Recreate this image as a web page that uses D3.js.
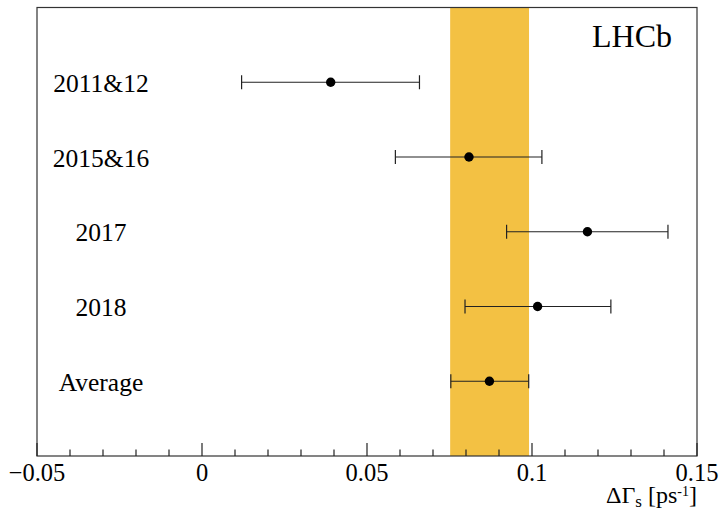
<!DOCTYPE html>
<html>
<head>
<meta charset="utf-8">
<script src="https://cdn.jsdelivr.net/npm/d3@7"></script>
<style>
  body { margin: 0; background: #fff; }
  svg { display: block; }
</style>
</head>
<body>
<script>
// measurements (ΔΓs, ps^-1)
var labels = ["2011&12", "2015&16", "2017", "2018", "Average"];
var centralValues = [0.0390, 0.0809, 0.1168, 0.1017, 0.0871];
var lowerEdges = [0.0120, 0.0586, 0.0923, 0.0797, 0.0754];
var upperEdges = [0.0659, 0.1030, 0.1412, 0.1239, 0.0990];
var bandRange = [0.0752, 0.0991];
var xTicks = [-0.05, 0, 0.05, 0.1, 0.15];

var serif = "'Liberation Serif', 'Times New Roman', serif";

var outerWidth = 720, outerHeight = 513,
    margin = {top: 7.5, right: 23, bottom: 57, left: 37},
    innerWidth = outerWidth - margin.left - margin.right,
    innerHeight = outerHeight - margin.top - margin.bottom;

var svg = d3.select("body").append("svg")
    .attr("width", outerWidth)
    .attr("height", outerHeight);

var plot = svg.append("g")
    .attr("transform", "translate(" + margin.left + "," + margin.top + ")");

var xScale = d3.scaleLinear().domain([-0.05, 0.15]).range([0, innerWidth]);
// rows: top row at 5, bottom at 1, frame spans 0..6
var yScale = d3.scaleLinear().domain([0, 6]).range([innerHeight, 0]);

// average band
plot.append("rect")
    .attr("x", xScale(bandRange[0]))
    .attr("width", xScale(bandRange[1]) - xScale(bandRange[0]))
    .attr("y", 0)
    .attr("height", innerHeight)
    .attr("fill", "#f3c143");

// frame
plot.append("rect")
    .attr("x", 0).attr("y", 0)
    .attr("width", innerWidth).attr("height", innerHeight)
    .attr("fill", "none")
    .attr("stroke", "#333")
    .attr("stroke-width", 1.2);

// x axis: ticks pointing up into the plot
var minorTicks = d3.range(-50, 151, 10).map(function(d) { return d / 1000; });
var xg = plot.append("g").attr("transform", "translate(0," + innerHeight + ")");
xg.selectAll("line.minor")
    .data(minorTicks)
    .enter().append("line")
    .attr("x1", function(d) { return xScale(d); })
    .attr("x2", function(d) { return xScale(d); })
    .attr("y1", 0)
    .attr("y2", function(d) { return xTicks.some(function(t) { return Math.abs(t - d) < 1e-9; }) ? -13 : -6.5; })
    .attr("stroke", "#222")
    .attr("stroke-width", 1.2);

xg.selectAll("text.tick")
    .data(xTicks)
    .enter().append("text")
    .attr("x", function(d) { return xScale(d); })
    .attr("y", 25)
    .attr("text-anchor", "middle")
    .attr("font-family", serif)
    .attr("font-size", 24.5)
    .text(function(d) { return d < 0 ? "\u2212" + Math.abs(d) : String(d); });

// axis title
var title = svg.append("text")
    .attr("x", 697)
    .attr("y", 503)
    .attr("text-anchor", "end")
    .attr("font-family", serif)
    .attr("font-size", 24);
title.append("tspan").text("\u0394\u0393");
title.append("tspan").attr("dy", 4).attr("font-size", 17).text("s");
title.append("tspan").attr("dy", -4).text("\u00a0[ps");
title.append("tspan").attr("dy", -7).attr("font-size", 14).text("-1");
title.append("tspan").attr("dy", 7).text("]");

// error bars
var rows = plot.selectAll("g.row")
    .data(labels)
    .enter().append("g")
    .attr("transform", function(d, i) { return "translate(0," + yScale(5 - i) + ")"; });

rows.append("line")
    .attr("x1", function(d, i) { return xScale(lowerEdges[i]); })
    .attr("x2", function(d, i) { return xScale(upperEdges[i]); })
    .attr("stroke", "#222")
    .attr("stroke-width", 1.2);

rows.append("line")
    .attr("x1", function(d, i) { return xScale(lowerEdges[i]); })
    .attr("x2", function(d, i) { return xScale(lowerEdges[i]); })
    .attr("y1", -7).attr("y2", 7)
    .attr("stroke", "#222")
    .attr("stroke-width", 1.2);

rows.append("line")
    .attr("x1", function(d, i) { return xScale(upperEdges[i]); })
    .attr("x2", function(d, i) { return xScale(upperEdges[i]); })
    .attr("y1", -7).attr("y2", 7)
    .attr("stroke", "#222")
    .attr("stroke-width", 1.2);

rows.append("circle")
    .attr("cx", function(d, i) { return xScale(centralValues[i]); })
    .attr("r", 4.7)
    .attr("fill", "#000");

rows.append("text")
    .attr("x", 101 - margin.left)
    .attr("y", 9.7)
    .attr("text-anchor", "middle")
    .attr("font-family", serif)
    .attr("font-size", 25.5)
    .text(function(d) { return d; });

// experiment label
svg.append("text")
    .attr("x", 632)
    .attr("y", 46.7)
    .attr("text-anchor", "middle")
    .attr("font-family", serif)
    .attr("font-size", 32)
    .text("LHCb");
</script>
</body>
</html>
